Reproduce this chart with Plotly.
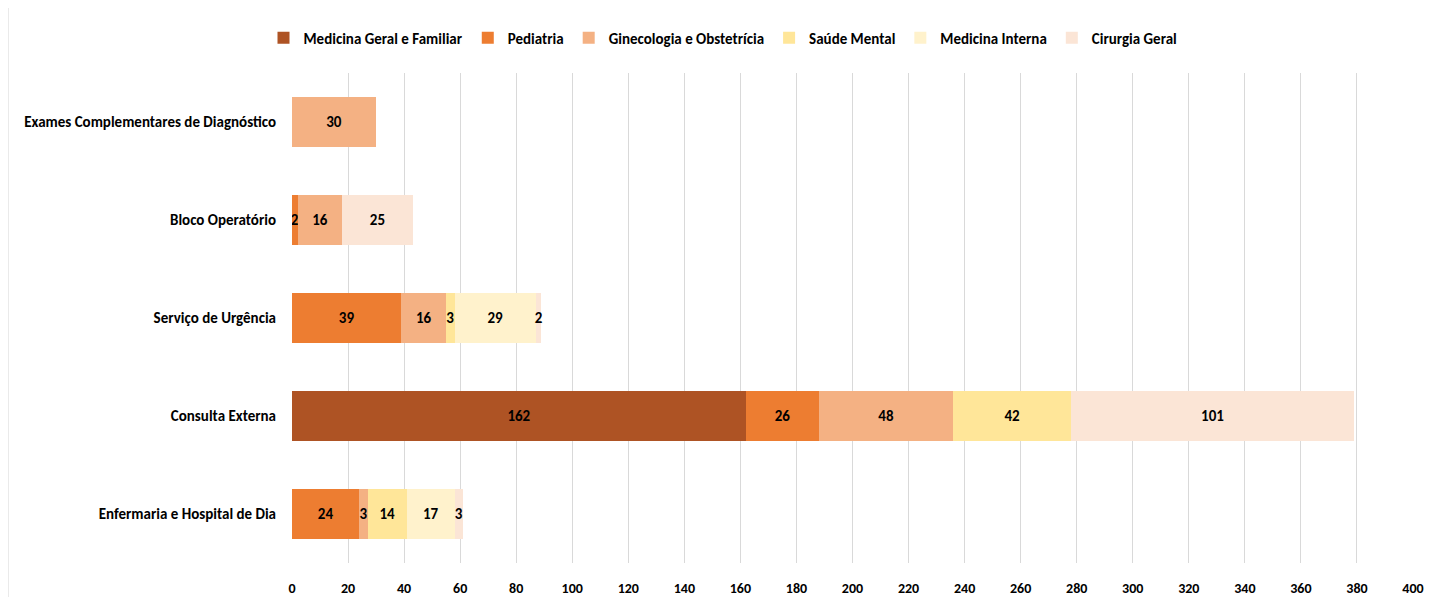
import plotly.graph_objects as go

categorias = [
    "Enfermaria e Hospital de Dia",
    "Consulta Externa",
    "Serviço de Urgência",
    "Bloco Operatório",
    "Exames Complementares de Diagnóstico",
]

especialidades = [
    "Medicina Geral e Familiar",
    "Pediatria",
    "Ginecologia e Obstetrícia",
    "Saúde Mental",
    "Medicina Interna",
    "Cirurgia Geral",
]

# valores por especialidade, na ordem das categorias (None = sem registo)
medicina_geral = [None, 162, None, None, None]
pediatria = [24, 26, 39, 2, None]
ginecologia = [3, 48, 16, 16, 30]
saude_mental = [14, 42, 3, None, None]
medicina_interna = [17, None, 29, None, None]
cirurgia_geral = [3, 101, 2, 25, None]

valores = [medicina_geral, pediatria, ginecologia, saude_mental, medicina_interna, cirurgia_geral]
cores = ["#AE5324", "#ED7D31", "#F4B183", "#FFE699", "#FFF2CC", "#FBE5D6"]

FONTE = "Carlito, Lato, sans-serif"

fig = go.Figure()
for nome, vals, cor in zip(especialidades, valores, cores):
    fig.add_trace(
        go.Bar(
            y=categorias,
            x=vals,
            name=nome,
            orientation="h",
            marker=dict(color=cor, line=dict(width=0)),
            text=[str(v) if v else "" for v in vals],
            textposition="inside",
            insidetextanchor="middle",
            textangle=0,
            constraintext="none",
            textfont=dict(family=FONTE, size=15, color="#000000", weight="bold"),
            hoverinfo="x+name",
        )
    )

# a página tem margem de 8px no body, daí os ajustes nas margens
fig.update_layout(
    barmode="stack",
    bargap=0.49,
    width=1430,
    height=589,
    paper_bgcolor="white",
    plot_bgcolor="white",
    margin=dict(l=284, r=25, t=65, b=34),
    font=dict(family=FONTE, size=15, color="#000000"),
    legend=dict(
        orientation="h",
        x=0.5,
        xanchor="center",
        xref="container",
        y=0.949,
        yanchor="middle",
        yref="container",
        font=dict(family=FONTE, size=15, color="#000000", weight="bold"),
        traceorder="normal",
        itemwidth=30,
        tracegroupgap=0,
    ),
    xaxis=dict(
        range=[0, 400],
        dtick=20,
        showgrid=True,
        gridcolor="#D9D9D9",
        gridwidth=1,
        zeroline=False,
        showline=False,
        ticks="outside",
        ticklen=12,
        tickcolor="rgba(0,0,0,0)",
        tickfont=dict(family=FONTE, size=14, color="#000000", weight="bold"),
        automargin=False,
    ),
    yaxis=dict(
        showgrid=False,
        showline=False,
        ticks="outside",
        ticklen=12,
        tickcolor="rgba(0,0,0,0)",
        tickfont=dict(family=FONTE, size=15, color="#000000", weight="bold"),
        automargin=False,
    ),
    shapes=[
        dict(
            type="line",
            xref="paper",
            yref="paper",
            x0=-0.2533,
            x1=-0.2533,
            y0=-0.07,
            y1=1.15,
            line=dict(color="#D9D9D9", width=1),
        )
    ],
)

fig.write_html("out.html")
